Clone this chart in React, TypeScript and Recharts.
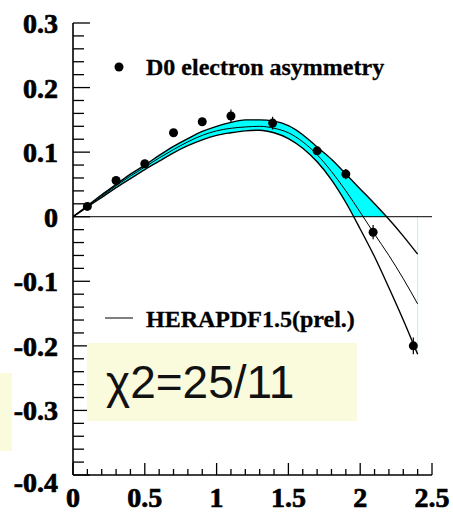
import {
  ComposedChart,
  Area,
  Line,
  Scatter,
  ErrorBar,
  XAxis,
  YAxis,
  ReferenceLine,
} from 'recharts';

// HERAPDF1.5 prediction (central + uncertainty band), sampled on eta
const curveX = [0, 0.1, 0.2, 0.3, 0.4, 0.5, 0.6, 0.7, 0.8, 0.9, 1.0, 1.1, 1.2, 1.3, 1.4, 1.5, 1.6, 1.7, 1.8, 1.9, 2.0, 2.1, 2.2, 2.3, 2.4];
const upperCurve = [0, 0.017, 0.034, 0.05, 0.066, 0.08, 0.095, 0.109, 0.121, 0.132, 0.14, 0.146, 0.15, 0.15, 0.148, 0.141, 0.127, 0.108, 0.089, 0.066, 0.043, 0.02, -0.004, -0.03, -0.058];
const centralCurve = [0, 0.016, 0.032, 0.048, 0.063, 0.077, 0.091, 0.104, 0.116, 0.126, 0.133, 0.137, 0.139, 0.14, 0.137, 0.13, 0.116, 0.096, 0.07, 0.04, 0.007, -0.027, -0.06, -0.096, -0.135];
const lowerCurve = [0, 0.015, 0.03, 0.045, 0.059, 0.073, 0.086, 0.099, 0.11, 0.119, 0.126, 0.13, 0.133, 0.134, 0.13, 0.121, 0.106, 0.085, 0.057, 0.022, -0.019, -0.062, -0.11, -0.16, -0.213];

// D0 electron asymmetry measurements
const pointX = [0.1, 0.3, 0.5, 0.7, 0.9, 1.1, 1.39, 1.7, 1.9, 2.09, 2.37];
const pointY = [0.016, 0.056, 0.082, 0.13, 0.147, 0.156, 0.145, 0.102, 0.066, -0.024, -0.2];
const pointErr = [0.004, 0.004, 0.004, 0.004, 0.004, 0.01, 0.01, 0.005, 0.008, 0.011, 0.013];

const xMajor = [0, 0.5, 1, 1.5, 2, 2.5];
const yMajor = [-0.4, -0.3, -0.2, -0.1, 0, 0.1, 0.2, 0.3];
const xLabels = ['0', '0.5', '1', '1.5', '2', '2.5'];
const yLabels = ['-0.4', '-0.3', '-0.2', '-0.1', '0', '0.1', '0.2', '0.3'];

const legendData = 'D0 electron asymmetry';
const legendFit = 'HERAPDF1.5(prel.)';
const chiText = '\u03c72=25/11';

const round = (v: number) => Math.round(v * 1000) / 1000;
const xTicks: number[] = [];
for (let i = 0; i < xMajor.length - 1; i++) for (let j = 0; j < 5; j++) xTicks.push(round(xMajor[i] + j * 0.1));
xTicks.push(xMajor[xMajor.length - 1]);
const yTicks: number[] = [];
for (let i = 0; i < yMajor.length - 1; i++) for (let j = 0; j < 5; j++) yTicks.push(round(yMajor[i] + j * 0.02));
yTicks.push(yMajor[yMajor.length - 1]);

const curveData = curveX.map((x, i) => ({
  x,
  upper: upperCurve[i],
  central: centralCurve[i],
  lower: lowerCurve[i],
  band: [lowerCurve[i], upperCurve[i]],
}));
const points = pointX.map((x, i) => ({ x, y: pointY[i], err: pointErr[i] }));

// the band is only filled above zero: hard stop of the gradient at y = 0
const maxUp = Math.max(...upperCurve);
const minLo = Math.min(...lowerCurve);
const zeroOffset = maxUp / (maxUp - minLo);

const SERIF = '"Liberation Serif", "Times New Roman", serif';
const SANS = '"Liberation Sans", Arial, sans-serif';

const isMajor = (v: number, list: number[]) => list.some((m) => Math.abs(m - v) < 1e-6);
const labelFor = (v: number, list: number[], labels: string[]) =>
  labels[list.findIndex((m) => Math.abs(m - v) < 1e-6)];

const labelStyle = {
  fontFamily: SERIF,
  fontWeight: 'bold' as const,
  fontSize: 28,
  fill: '#000',
  stroke: '#000',
  strokeWidth: 0.7,
};

function BottomTick({ x, y, payload }: any) {
  const v = payload.value;
  const major = isMajor(v, xMajor);
  return (
    <g>
      <line x1={x} x2={x} y1={y} y2={y - (major ? 12 : 6)} stroke="#000" strokeWidth={1.3} />
      {major && (
        <text x={x} y={y + 32} textAnchor="middle" {...labelStyle}>
          {labelFor(v, xMajor, xLabels)}
        </text>
      )}
    </g>
  );
}

function TopTick({ x, y, payload }: any) {
  const major = isMajor(payload.value, xMajor);
  return <line x1={x} x2={x} y1={y} y2={y + (major ? 11 : 5)} stroke="#000" strokeWidth={1.3} />;
}

function LeftTick({ x, y, payload }: any) {
  const v = payload.value;
  const major = isMajor(v, yMajor);
  const shift = v === yMajor[0] ? 17 : 10;
  return (
    <g>
      <line x1={x} x2={x + (major ? 17 : 11)} y1={y} y2={y} stroke="#000" strokeWidth={1.3} />
      {major && (
        <text x={x - 15} y={y + shift} textAnchor="end" {...labelStyle}>
          {labelFor(v, yMajor, yLabels)}
        </text>
      )}
    </g>
  );
}

function RightTick({ x, y, payload }: any) {
  const major = isMajor(payload.value, yMajor);
  return <line x1={x} x2={x - (major ? 16 : 11)} y1={y} y2={y} stroke="#000" strokeWidth={1.3} />;
}

const axisLine = { stroke: '#000', strokeWidth: 1.6 };

export default function App() {
  return (
    <div style={{ position: 'absolute', left: 0, top: 0, width: 453, height: 520, background: '#fff' }}>
      <ComposedChart
        width={453}
        height={520}
        data={curveData}
        margin={{ top: 23, right: 21, bottom: 0, left: 0 }}
      >
        <defs>
          <linearGradient id="bandFill" x1="0" y1="0" x2="0" y2="1">
            <stop offset={zeroOffset} stopColor="#00ffff" />
            <stop offset={zeroOffset} stopColor="#00ffff" stopOpacity={0} />
          </linearGradient>
        </defs>
        <XAxis
          type="number"
          dataKey="x"
          domain={[0, 2.5]}
          ticks={xTicks}
          interval={0}
          tickSize={0}
          tickMargin={0}
          height={45}
          axisLine={axisLine}
          tick={BottomTick}
          allowDataOverflow
        />
        <XAxis
          xAxisId="top"
          orientation="top"
          type="number"
          dataKey="x"
          domain={[0, 2.5]}
          ticks={xTicks}
          interval={0}
          tickSize={0}
          tickMargin={0}
          height={0}
          axisLine={axisLine}
          tick={TopTick}
          allowDataOverflow
        />
        <YAxis
          type="number"
          dataKey="y"
          domain={[-0.4, 0.3]}
          ticks={yTicks}
          interval={0}
          tickSize={0}
          tickMargin={0}
          width={73}
          axisLine={axisLine}
          tick={LeftTick}
          allowDataOverflow
        />
        <YAxis
          yAxisId="right"
          orientation="right"
          type="number"
          domain={[-0.4, 0.3]}
          ticks={yTicks}
          interval={0}
          tickSize={0}
          tickMargin={0}
          width={0}
          axisLine={axisLine}
          tick={RightTick}
          allowDataOverflow
        />
        <Area
          type="monotone"
          dataKey="band"
          stroke="none"
          fill="url(#bandFill)"
          fillOpacity={1}
          isAnimationActive={false}
        />
        <ReferenceLine
          segment={[
            { x: curveX[curveX.length - 1], y: 0 },
            { x: curveX[curveX.length - 1], y: lowerCurve[lowerCurve.length - 1] },
          ]}
          stroke="#b8f4f4"
          strokeWidth={1}
        />
        <ReferenceLine y={0} stroke="#000" strokeWidth={1} />
        <Line type="monotone" dataKey="upper" stroke="#000" strokeWidth={1.4} dot={false} isAnimationActive={false} />
        <Line type="monotone" dataKey="central" stroke="#000" strokeWidth={1} dot={false} isAnimationActive={false} />
        <Line type="monotone" dataKey="lower" stroke="#000" strokeWidth={1.4} dot={false} isAnimationActive={false} />
        <Scatter
          data={points}
          dataKey="y"
          isAnimationActive={false}
          shape={(p: any) => <circle cx={p.cx} cy={p.cy} r={4.5} fill="#000" />}
        >
          <ErrorBar dataKey="err" direction="y" width={0} stroke="#000" strokeWidth={1.2} />
        </Scatter>
      </ComposedChart>
      <svg
        width={453}
        height={520}
        style={{ position: 'absolute', left: 0, top: 0, pointerEvents: 'none' }}
      >
        <circle cx={119} cy={67} r={4.5} fill="#000" />
        <text x={146} y={75} fontFamily={SERIF} fontWeight="bold" fontSize={24} fill="#000" stroke="#000" strokeWidth={0.3}>
          {legendData}
        </text>
        <line x1={105} x2={133} y1={318} y2={318} stroke="#000" strokeWidth={1} />
        <text x={146} y={327} fontFamily={SERIF} fontWeight="bold" fontSize={24} fill="#000" stroke="#000" strokeWidth={0.3}>
          {legendFit}
        </text>
        <rect x={87} y={343} width={270} height={78} fill="#fafadd" />
        <text x={106} y={398} fontFamily={SANS} fontSize={46} fill="#111">
          {chiText}
        </text>
        <rect x={0} y={373} width={12} height={78} fill="#fafadd" />
      </svg>
    </div>
  );
}
